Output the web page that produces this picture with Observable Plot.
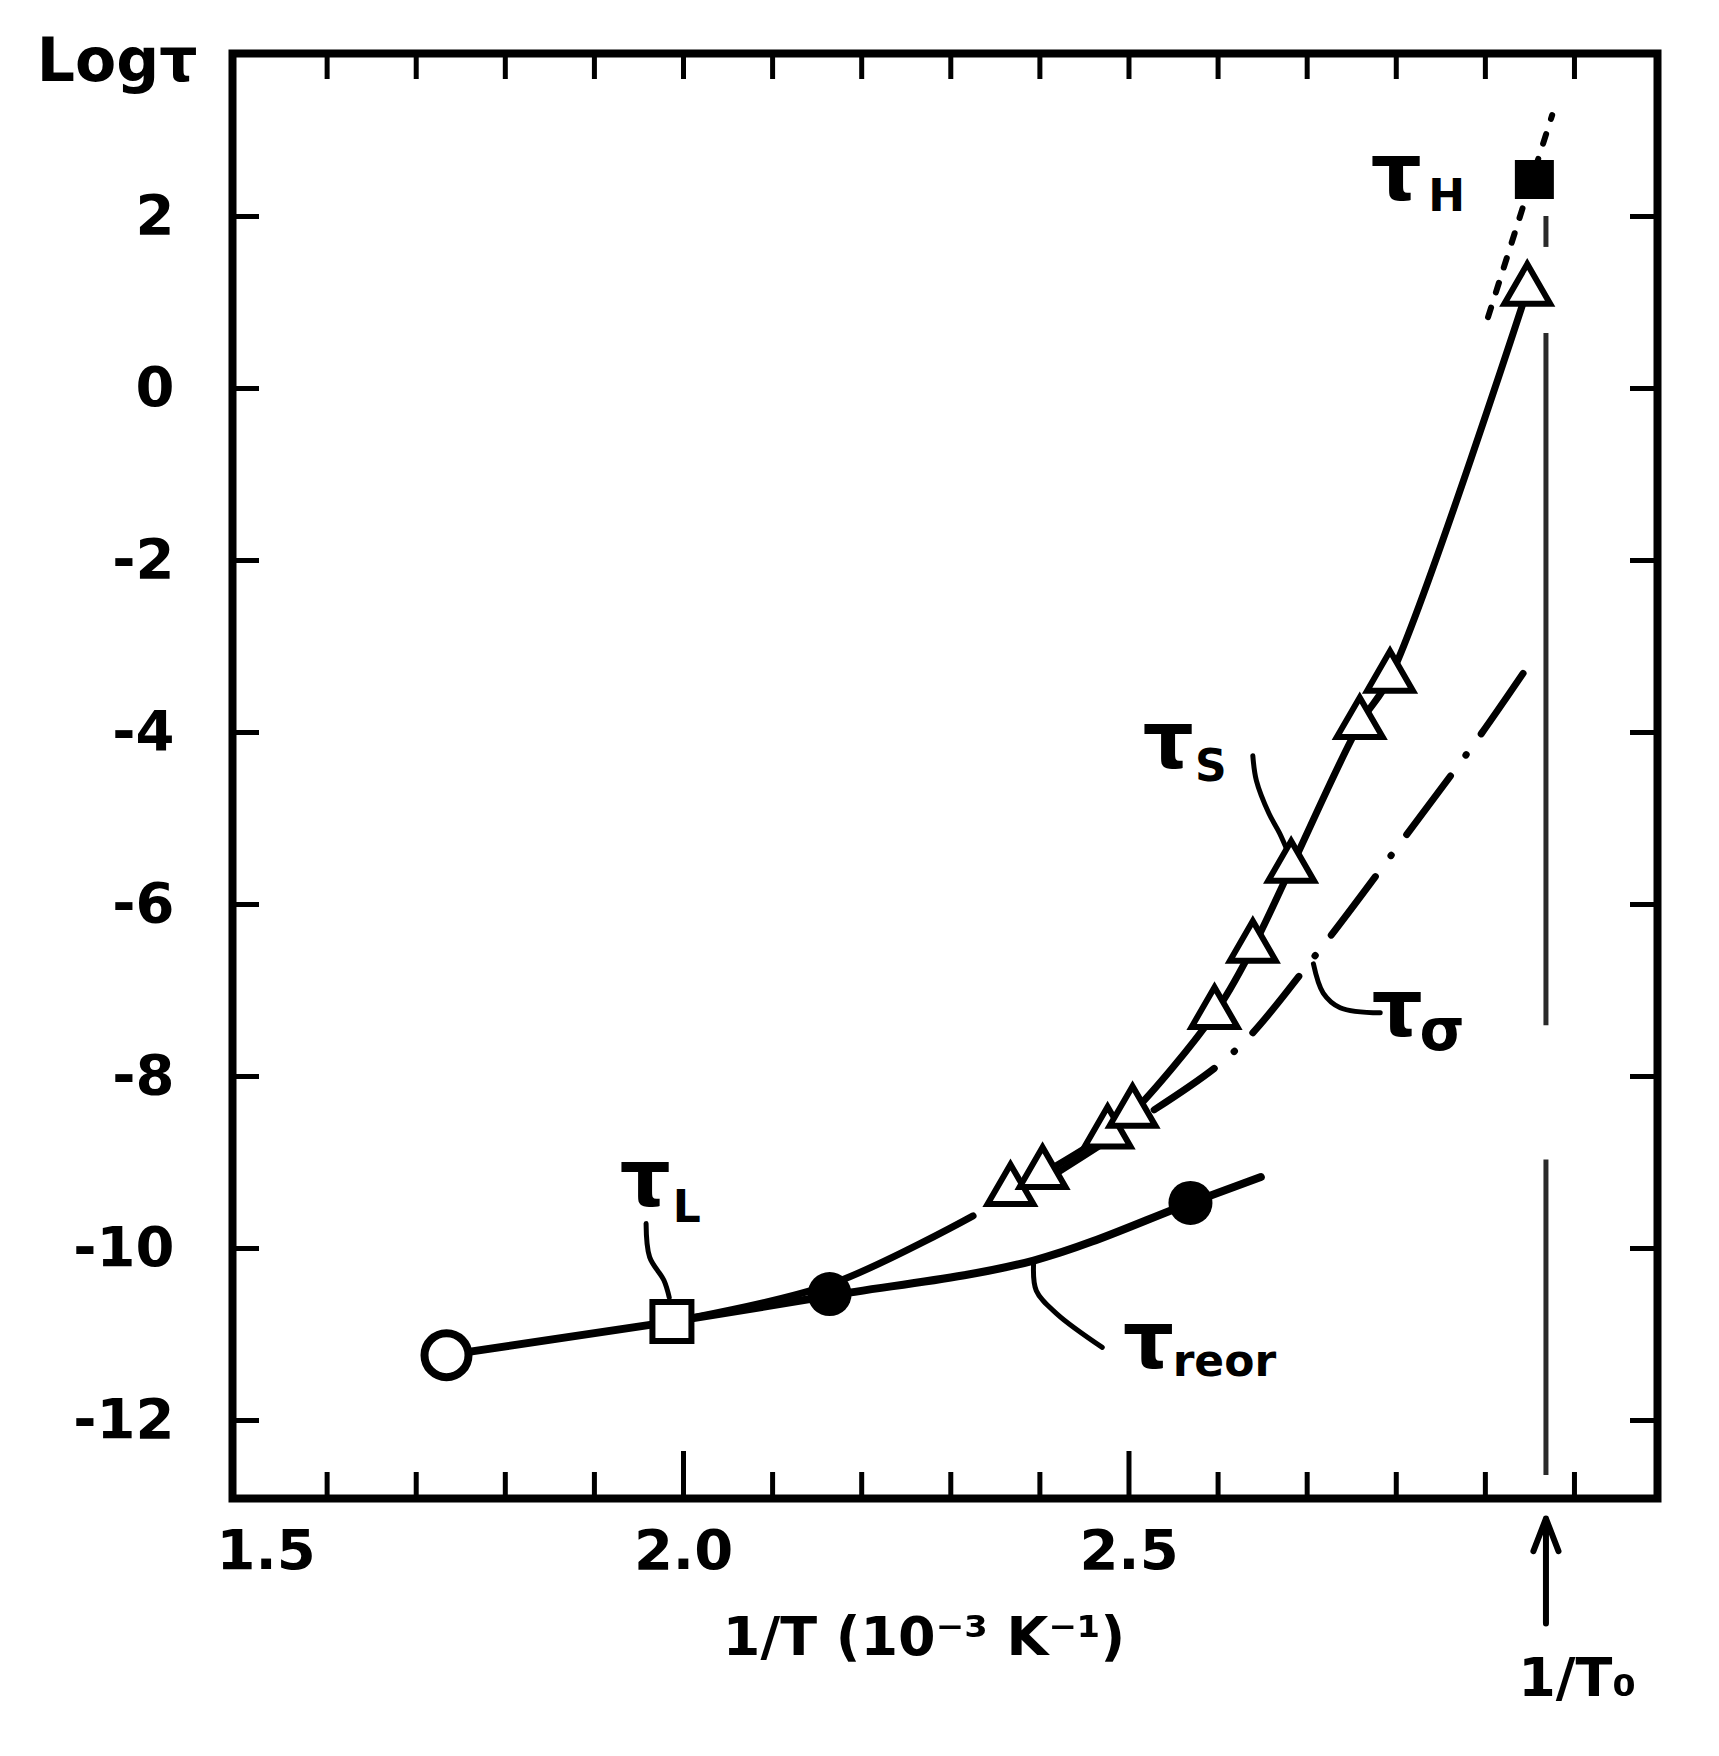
<!DOCTYPE html>
<html>
<head>
<meta charset="utf-8">
<script src="https://cdn.jsdelivr.net/npm/d3@7"></script>
<script src="https://cdn.jsdelivr.net/npm/@observablehq/plot@0.6"></script>
<style>
  html, body { margin: 0; padding: 0; background: #fff; }
  #chart svg { display: block; }
</style>
</head>
<body>
<div id="chart"></div>
<script>
// ---------------- data (1/T in 10^-3 K^-1, log tau) ----------------
const openCircleX = [1.734];
const openCircleY = [-11.24];

const tauLSquareX = [1.987];
const tauLSquareY = [-10.85];

const tauReorDotX = [2.164, 2.569];
const tauReorDotY = [-10.53, -9.47];

const lowLineX = [1.734, 1.987];
const lowLineY = [-11.24, -10.85];

const tauReorLineX = [1.987, 2.164, 2.393, 2.569, 2.648];
const tauReorLineY = [-10.85, -10.55, -10.14, -9.47, -9.17];

const tauSX = [2.367, 2.403, 2.476, 2.504, 2.596, 2.639, 2.682, 2.759, 2.793, 2.947];
const tauSY = [-9.33, -9.13, -8.66, -8.42, -7.27, -6.50, -5.57, -3.90, -3.36, 1.14];

const tauSLowX = [1.987, 2.164, 2.325];
const tauSLowY = [-10.85, -10.42, -9.62];

const tauSigmaX = [2.41, 2.50, 2.617, 2.707, 2.810, 2.893, 2.951];
const tauSigmaY = [-9.18, -8.58, -7.72, -6.62, -5.21, -4.05, -3.18];

const tauSExtX = [2.903, 2.975];
const tauSExtY = [0.83, 3.18];

const tauHX = [2.955];
const tauHY = [2.43];

const invT0 = 2.968;
const invT0SegTop = [2.0, 0.64, -8.97];
const invT0SegBottom = [1.64, -7.41, -12.64];

// ticks and tick labels
const xMinorTicks = [1.6, 1.7, 1.8, 1.9, 2.1, 2.2, 2.3, 2.4, 2.6, 2.7, 2.8, 2.9, 3.0];
const xMajorTicks = [2.0, 2.5];
const xTopTicks = [1.6, 1.7, 1.8, 1.9, 2.0, 2.1, 2.2, 2.3, 2.4, 2.5, 2.6, 2.7, 2.8, 2.9, 3.0];
const xTickLabels = ["1.5", "2.0", "2.5"];
const xTickValues = [1.5, 2.0, 2.5];
const yTicks = [2, 0, -2, -4, -6, -8, -10, -12];
const yTickLabels = ["2", "0", "-2", "-4", "-6", "-8", "-10", "-12"];

// annotations (label anchor points, in data units)
const tauNames = ["S", "σ", "H", "L", "reor"];
const tauGlyphX = [2.544, 2.801, 2.800, 1.957, 2.522];
const tauGlyphY = [-4.12, -7.23, 2.49, -9.21, -11.09];
const tauSubX = [2.574, 2.826, 2.836, 1.988, 2.549];
const tauSubY = [-4.40, -7.48, 2.23, -9.53, -11.32];

const leaderS_X = [2.639, 2.643, 2.657, 2.669, 2.678];
const leaderS_Y = [-4.27, -4.56, -4.94, -5.17, -5.38];
const leaderSig_X = [2.707, 2.718, 2.737, 2.782];
const leaderSig_Y = [-6.69, -7.03, -7.20, -7.26];
const leaderL_X = [1.958, 1.962, 1.978, 1.984];
const leaderL_Y = [-9.71, -10.10, -10.37, -10.57];
const leaderR_X = [2.393, 2.396, 2.419, 2.470];
const leaderR_Y = [-10.16, -10.49, -10.76, -11.15];

// ---------------- build tables ----------------
const zip = (xs, ys) => xs.map((x, i) => ({x, y: ys[i]}));
const lowLine = zip(lowLineX, lowLineY);
const reorLine = zip(tauReorLineX, tauReorLineY);
const sLine = zip(tauSX, tauSY);
const sLow = zip(tauSLowX, tauSLowY);
const sigmaLine = zip(tauSigmaX, tauSigmaY);
const sExt = zip(tauSExtX, tauSExtY);
const leaders = [
  ...zip(leaderS_X, leaderS_Y).map(d => ({...d, id: "S"})),
  ...zip(leaderSig_X, leaderSig_Y).map(d => ({...d, id: "sig"})),
  ...zip(leaderL_X, leaderL_Y).map(d => ({...d, id: "L"})),
  ...zip(leaderR_X, leaderR_Y).map(d => ({...d, id: "R"}))
];
const tauLabels = tauNames.map((n, i) => ({name: n, gx: tauGlyphX[i], gy: tauGlyphY[i], sx: tauSubX[i], sy: tauSubY[i]}));
const invT0Segs = invT0SegTop.map((t, i) => ({y1: t, y2: invT0SegBottom[i]}));

// ---------------- layout ----------------
const W = 1719, H = 1756;
const mL = 232, mR = 62, mT = 53, mB = 258;
const plotW = W - mL - mR, plotH = H - mT - mB;
const font = "'DejaVu Sans', 'Liberation Sans', sans-serif";

const chart = Plot.plot({
  width: W, height: H,
  marginLeft: mL, marginRight: mR, marginTop: mT, marginBottom: mB,
  x: {domain: [1.4938, 3.0932], axis: null},
  y: {domain: [-12.907, 3.895], axis: null},
  style: {fontFamily: font, background: "#fff", color: "#000"},
  marks: [
    // I/T0 vertical dashed line
    Plot.ruleX(invT0Segs, {x: () => invT0, y1: "y1", y2: "y2", stroke: "#2a2a2a", strokeWidth: 5}),
    // arrow below the axis pointing to 1/T0
    Plot.arrow([0], {x1: () => invT0, x2: () => invT0, y1: () => -14.36, y2: () => -13.14,
      stroke: "#000", strokeWidth: 6, headLength: 28, headAngle: 42}),

    // curves
    Plot.line(lowLine, {x: "x", y: "y", stroke: "#000", strokeWidth: 8}),
    Plot.line(reorLine, {x: "x", y: "y", stroke: "#000", strokeWidth: 8, curve: "catmull-rom"}),
    Plot.line(sLow, {x: "x", y: "y", stroke: "#000", strokeWidth: 7, curve: "catmull-rom", strokeLinecap: "round"}),
    Plot.line(sLine, {x: "x", y: "y", stroke: "#000", strokeWidth: 7, curve: "catmull-rom"}),
    Plot.line(sigmaLine, {x: "x", y: "y", stroke: "#000", strokeWidth: 7, curve: "catmull-rom",
      strokeDasharray: "73,26,0.5,26", strokeLinecap: "round"}),
    Plot.line(sExt, {x: "x", y: "y", stroke: "#000", strokeWidth: 6,
      strokeDasharray: "10,16", strokeLinecap: "round"}),

    // leaders
    Plot.line(leaders, {x: "x", y: "y", z: "id", stroke: "#000", strokeWidth: 5, curve: "catmull-rom", strokeLinecap: "round"}),

    // markers
    Plot.dot(zip(tauSX, tauSY), {x: "x", y: "y", symbol: "triangle", r: 17, fill: "#fff", stroke: "#000", strokeWidth: 6}),
    Plot.dot(zip(openCircleX, openCircleY), {x: "x", y: "y", r: 22, fill: "#fff", stroke: "#000", strokeWidth: 8}),
    Plot.dot(zip(tauLSquareX, tauLSquareY), {x: "x", y: "y", symbol: "square", r: 22, fill: "#fff", stroke: "#000", strokeWidth: 6}),
    Plot.dot(zip(tauReorDotX, tauReorDotY), {x: "x", y: "y", r: 22, fill: "#000"}),
    Plot.dot(zip(tauHX, tauHY), {x: "x", y: "y", symbol: "square", r: 22, fill: "#000"}),

    // frame and inward ticks
    Plot.frame({stroke: "#000", strokeWidth: 8}),
    Plot.tickX(xMinorTicks, {x: d => d, insetTop: plotH - 26, strokeWidth: 5}),
    Plot.tickX(xMajorTicks, {x: d => d, insetTop: plotH - 47, strokeWidth: 5}),
    Plot.tickX(xTopTicks, {x: d => d, insetBottom: plotH - 26, strokeWidth: 5}),
    Plot.tickY(yTicks, {y: d => d, insetRight: plotW - 27, strokeWidth: 5}),
    Plot.tickY(yTicks, {y: d => d, insetLeft: plotW - 27, strokeWidth: 5}),

    // tick labels
    Plot.text(yTicks, {y: d => d, text: (d, i) => yTickLabels[i], frameAnchor: "left", dx: -58,
      textAnchor: "end", lineAnchor: "middle", fontSize: 56, fontWeight: "bold", fill: "#000", letterSpacing: "-2px"}),
    Plot.text([0], {x: () => xTickValues[0], text: () => xTickLabels[0], frameAnchor: "bottom", dx: 28, dy: 53,
      lineAnchor: "middle", fontSize: 56, fontWeight: "bold", fill: "#000", letterSpacing: "-3px"}),
    Plot.text([1, 2], {x: i => xTickValues[i], text: i => xTickLabels[i], frameAnchor: "bottom", dy: 53,
      lineAnchor: "middle", fontSize: 56, fontWeight: "bold", fill: "#000", letterSpacing: "-3px"}),

    // axis titles
    Plot.text(["Logτ"], {frameAnchor: "top-left", dx: -35, dy: 8, textAnchor: "end", lineAnchor: "middle",
      fontSize: 60, fontWeight: "bold", fill: "#000"}),
    Plot.text(["1/T (10⁻³ K⁻¹)"], {x: () => 2.27, frameAnchor: "bottom", dy: 139, lineAnchor: "middle",
      fontSize: 54, fontWeight: "bold", fill: "#000", letterSpacing: "2px"}),
    Plot.text(["1/T₀"], {x: () => invT0 + 0.035, frameAnchor: "bottom", dy: 180, lineAnchor: "middle",
      fontSize: 54, fontWeight: "bold", fill: "#000"}),

    // tau labels
    Plot.text(tauLabels, {x: "gx", y: "gy", text: () => "τ", fontSize: 80, fontWeight: "bold",
      lineAnchor: "middle", fill: "#000"}),
    Plot.text(tauLabels.filter(d => d.name !== "σ"), {x: "sx", y: "sy", text: "name", fontSize: 44, fontWeight: "bold",
      textAnchor: "start", lineAnchor: "middle", fill: "#000"}),
    Plot.text(tauLabels.filter(d => d.name === "σ"), {x: "sx", y: "sy", text: "name", fontSize: 58, fontWeight: "bold",
      textAnchor: "start", lineAnchor: "middle", fill: "#000"})
  ]
});
document.getElementById("chart").appendChild(chart);
</script>
</body>
</html>
